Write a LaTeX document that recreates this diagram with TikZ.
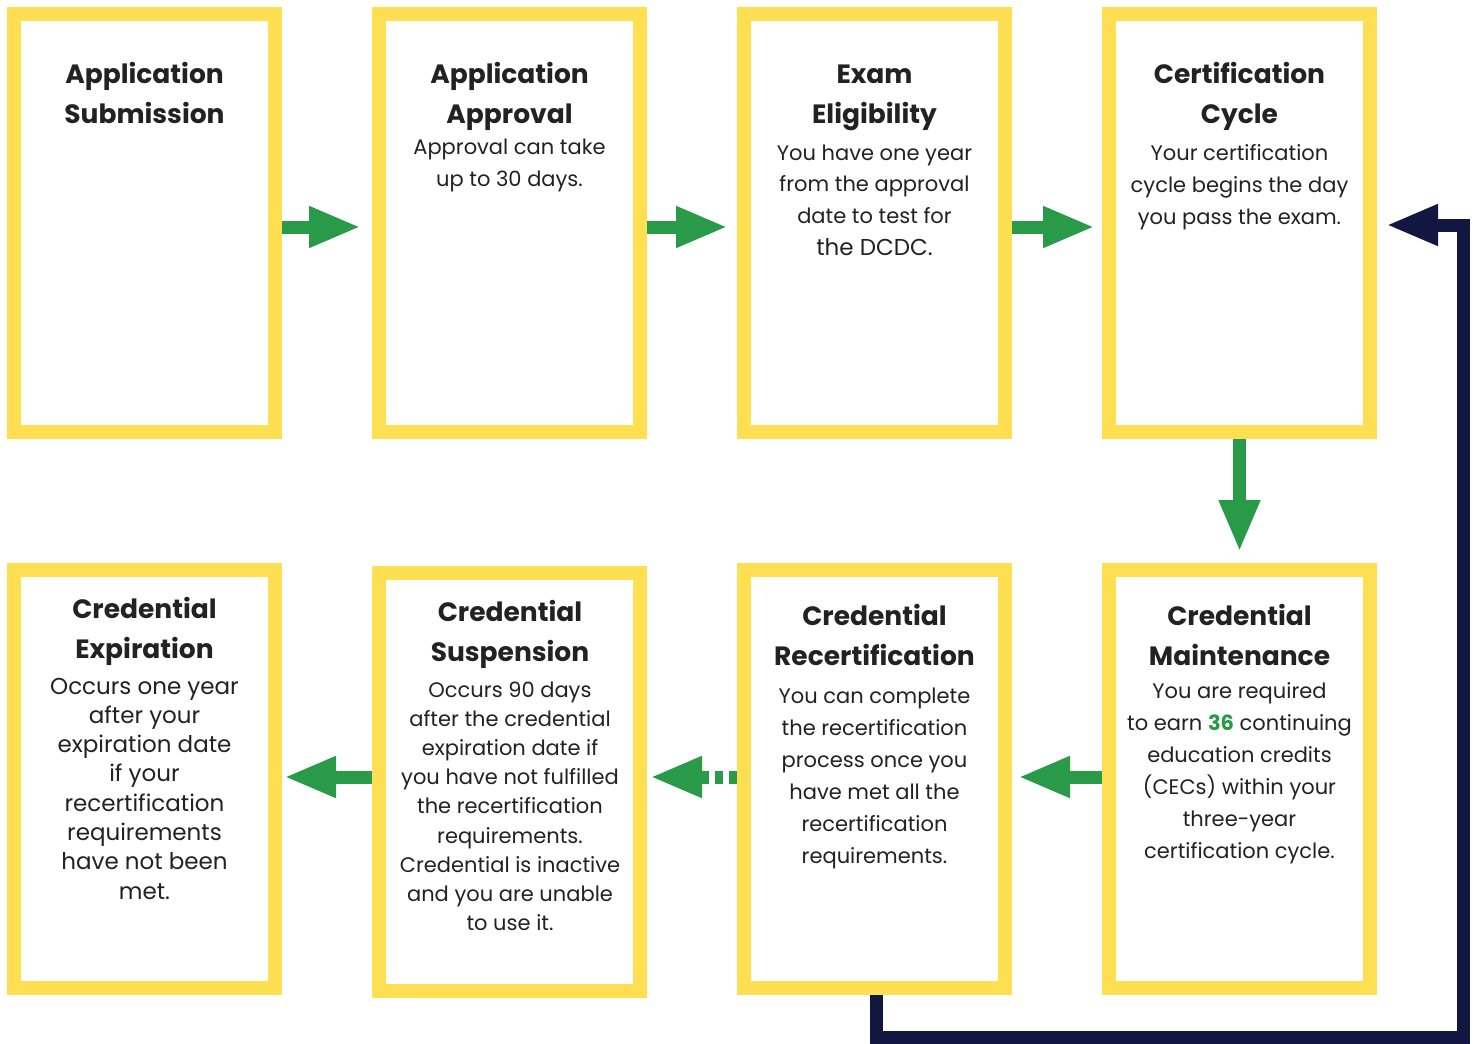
\documentclass[tikz,border=0pt]{standalone}
\usepackage{fontspec}
\setmainfont{Poppins}
\usetikzlibrary{arrows.meta}
\definecolor{cyel}{HTML}{FFDF52}
\definecolor{cgreen}{HTML}{289A48}
\definecolor{cnavy}{HTML}{121742}
\definecolor{ctext}{HTML}{222222}
\newcommand\blines[6]{%
  \foreach \t [count=\i] in {#6} {
    \node[txt, font=#5, anchor=base] (#1-\i) at (#2, {#3+(\i-1)*#4}) {\t};
  }%
}
\begin{document}
\begin{tikzpicture}[x=1pt, y=-1pt,
  box/.style={draw=cyel, line width=14pt, fill=white, minimum width=261pt, minimum height=418pt, inner sep=0pt},
  txt/.style={text=ctext, inner sep=0pt},
  garrow/.style={draw=cgreen, line width=13pt, -{Triangle[length=52pt, width=38pt]}},
  garrowd/.style={garrow, dash pattern=on 8pt off 6pt},
  narrow/.style={draw=cnavy, line width=13pt, -{Triangle[length=52pt, width=38pt]}},
]
\useasboundingbox (0,0) rectangle (1475,1044);
\def\ttlf{\fontsize{26.5}{32}\selectfont\bfseries}
\def\bodyf{\fontsize{21}{25}\selectfont}
% navy feedback connector corners
\coordinate (nb1) at (876,1037);
\coordinate (nb2) at (1463,1037);
\coordinate (nb3) at (1463,225);
% boxes
\node[box] (app)   at (144.5,223) {};
\node[box] (appr)  at (509.5,223) {};
\node[box] (exam)  at (874.5,223) {};
\node[box] (cert)  at (1239.5,223) {};
\node[box] (exp)   at (144.5,779) {};
\node[box] (susp)  at (509.5,782) {};
\node[box] (recert) at (874.5,779) {};
\node[box] (maint) at (1239.5,779) {};
\draw[narrow] (recert.south -| nb1) -- (nb1) -- (nb2) -- (nb3) -- ([xshift=9pt]cert.east |- nb3);
% green arrows
\draw[garrow] (app.east |- 0,227) -- ([xshift=-11pt]appr.west |- 0,227);
\draw[garrow] (appr.east |- 0,227) -- ([xshift=-9pt]exam.west |- 0,227);
\draw[garrow] (exam.east |- 0,227) -- ([xshift=-7pt]cert.west |- 0,227);
\draw[garrow] (cert.south) -- ([yshift=11pt]maint.north);
\draw[garrow] (maint.west |- 0,777) -- ([xshift=6pt]recert.east |- 0,777);
\draw[garrowd] (recert.west |- 0,777) -- ([xshift=3pt]susp.east |- 0,777);
\draw[garrow] (susp.west |- 0,777) -- ([xshift=2pt]exp.east |- 0,777);
% texts
\blines{appT}{144.5}{83}{40}{\ttlf}{Application,Submission}
\blines{apprT}{509.5}{83}{40}{\ttlf}{Application,Approval}
\blines{apprB}{509.5}{154}{32}{\bodyf}{Approval can take,up to 30 days.}
\blines{examT}{874.5}{83}{40}{\ttlf}{Exam,Eligibility}
\blines{examB}{874.5}{160}{31.7}{\bodyf}{You have one year,from the approval,date to test for,{\fontsize{23}{27}\selectfont the DCDC.}}
\blines{certT}{1239.5}{83}{40}{\ttlf}{Certification,Cycle}
\blines{certB}{1239.5}{160}{32}{\bodyf}{Your certification,cycle begins the day,you pass the exam.}
\blines{expT}{144.5}{618}{40}{\ttlf}{Credential,Expiration}
\blines{expB}{144.5}{694}{29.3}{\fontsize{23}{27}\selectfont}{Occurs one year,after your,expiration date,if your,recertification,requirements,have not been,met.}
\blines{suspT}{510}{621}{40}{\ttlf}{Credential,Suspension}
\blines{suspB}{510}{697}{29.2}{\fontsize{21}{25}\selectfont}{Occurs 90 days,after the credential,expiration date if,you have not fulfilled,the recertification,requirements.,Credential is inactive,and you are unable,to use it.}
\blines{recT}{874.5}{625}{40}{\ttlf}{Credential,Recertification}
\blines{recB}{874.5}{703}{32}{\bodyf}{You can complete,the recertification,process once you,have met all the,recertification,requirements.}
\blines{mainT}{1239.5}{625}{40}{\ttlf}{Credential,Maintenance}
\blines{mainB}{1239.5}{698}{32}{\bodyf}{You are required,to earn {\bfseries\color{cgreen}36} continuing,education credits,(CECs) within your,three-year,certification cycle.}
\end{tikzpicture}
\end{document}
